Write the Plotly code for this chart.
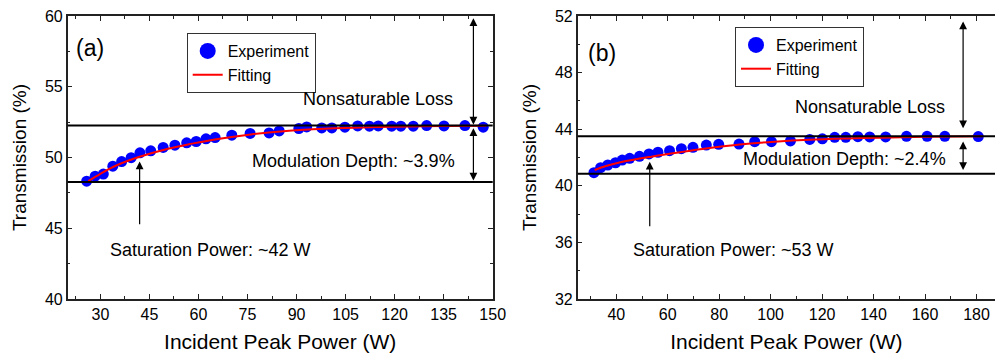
import plotly.graph_objects as go

# ---------------- Panel (a) data ----------------
pa_x = [25.8, 28.4, 30.9, 33.8, 36.5, 39.4, 42.1, 45.4, 49.2, 52.8, 56.4, 59.3, 62.3, 65.1,
        70.2, 75.8, 81.6, 84.7, 90.7, 93.1, 97.7, 100.8, 104.8, 108.7, 112.3, 115.0, 119.1,
        121.9, 125.7, 129.8, 135.1, 141.5, 147.1]
pa_y = [48.33, 48.68, 48.83, 49.39, 49.71, 49.99, 50.33, 50.47, 50.71, 50.87, 51.04, 51.13,
        51.32, 51.41, 51.58, 51.70, 51.74, 51.88, 52.05, 52.16, 52.09, 52.09, 52.14, 52.23,
        52.21, 52.23, 52.21, 52.21, 52.21, 52.26, 52.23, 52.26, 52.14]
fa_x = [26.3, 30, 35, 42, 51, 58, 65, 76, 86, 95, 105, 115, 125, 135, 148]
fa_y = [48.33, 48.85, 49.45, 50.05, 50.64, 50.98, 51.28, 51.63, 51.86, 51.99, 52.09, 52.15,
        52.19, 52.22, 52.25]
a_top, a_bot = 52.27, 48.27
a_sat = 42

# ---------------- Panel (b) data ----------------
pb_x = [31.3, 33.9, 36.7, 39.7, 42.3, 45.2, 49.0, 52.7, 56.2, 60.7, 65.3, 69.8, 75.0, 79.8,
        87.7, 93.8, 100.3, 107.7, 115.2, 120.1, 124.9, 129.2, 133.9, 138.5, 144.7, 152.8,
        160.8, 167.7, 180.7]
pb_y = [40.93, 41.28, 41.47, 41.63, 41.82, 41.94, 42.08, 42.25, 42.37, 42.48, 42.62, 42.72,
        42.88, 42.93, 42.95, 43.12, 43.12, 43.17, 43.28, 43.32, 43.43, 43.43, 43.47, 43.45,
        43.45, 43.50, 43.50, 43.50, 43.48]
fb_x = [31.6, 36, 42, 53.6, 65, 75.5, 88, 101.6, 115, 130, 142.4, 160, 182.5]
fb_y = [41.12, 41.40, 41.68, 42.06, 42.38, 42.65, 42.92, 43.12, 43.26, 43.35, 43.40, 43.46, 43.50]
b_top, b_bot = 43.50, 40.85
b_sat = 53

FONT = "Liberation Sans, Arial, sans-serif"
BLUE = "#0000ff"
RED = "#ff0000"
AX = "#222222"

fig = go.Figure()

# legend-only entries (large marker like the reference legend)
for leg, xa, ya in (("legend", "x", "y"), ("legend2", "x2", "y2")):
    fig.add_trace(go.Scatter(x=[None], y=[None], mode="markers", name="Experiment",
                             marker=dict(color=BLUE, size=16), legend=leg, xaxis=xa, yaxis=ya))
    fig.add_trace(go.Scatter(x=[None], y=[None], mode="lines", name="Fitting",
                             line=dict(color=RED, width=2), legend=leg, xaxis=xa, yaxis=ya))

fig.add_trace(go.Scatter(x=pa_x, y=pa_y, mode="markers", marker=dict(color=BLUE, size=11),
                         showlegend=False, xaxis="x", yaxis="y"))
fig.add_trace(go.Scatter(x=fa_x, y=fa_y, mode="lines", line=dict(color=RED, width=2, shape="spline"),
                         showlegend=False, xaxis="x", yaxis="y"))
fig.add_trace(go.Scatter(x=pb_x, y=pb_y, mode="markers", marker=dict(color=BLUE, size=11),
                         showlegend=False, xaxis="x2", yaxis="y2"))
fig.add_trace(go.Scatter(x=fb_x, y=fb_y, mode="lines", line=dict(color=RED, width=2, shape="spline"),
                         showlegend=False, xaxis="x2", yaxis="y2"))

# horizontal reference lines
for xr, yr, v in (("x", "y", a_top), ("x", "y", a_bot), ("x2", "y2", b_top), ("x2", "y2", b_bot)):
    fig.add_shape(type="line", xref=xr + " domain", yref=yr, x0=0, x1=1, y0=v, y1=v,
                  line=dict(color="black", width=2))

ann_font = dict(family=FONT, size=18, color="black")
label_font = dict(family=FONT, size=23, color="black")

annotations = [
    dict(x=74 / 995, y=1 - 33.3 / 358, xref="paper", yref="paper", text="(a)",
         showarrow=False, xanchor="left", font=label_font),
    dict(x=586 / 995, y=1 - 38.3 / 358, xref="paper", yref="paper", text="(b)",
         showarrow=False, xanchor="left", font=label_font),
    dict(x=114.8, y=54.1, xref="x", yref="y", text="Nonsaturable Loss", showarrow=False, font=ann_font),
    dict(x=107.3, y=49.74, xref="x", yref="y", text="Modulation Depth: ~3.9%", showarrow=False, font=ann_font),
    dict(x=63.8, y=43.46, xref="x", yref="y", text="Saturation Power: ~42 W", showarrow=False, font=ann_font),
    dict(x=138.7, y=45.55, xref="x2", yref="y2", text="Nonsaturable Loss", showarrow=False, font=ann_font),
    dict(x=128.8, y=41.87, xref="x2", yref="y2", text="Modulation Depth: ~2.4%", showarrow=False, font=ann_font),
    dict(x=85.6, y=35.46, xref="x2", yref="y2", text="Saturation Power: ~53 W", showarrow=False, font=ann_font),
]

arrow_common = dict(showarrow=True, arrowcolor="black", arrowwidth=1.2, arrowsize=1.3,
                    arrowhead=2, text="")
dbl = dict(arrowside="end+start", startarrowhead=2, startarrowsize=1.3)
arrows = [
    # saturation arrows (single head at top)
    dict(x=a_sat, y=49.72, ax=a_sat, ay=45.17, xref="x", yref="y", axref="x", ayref="y"),
    dict(x=b_sat, y=41.70, ax=b_sat, ay=37.04, xref="x2", yref="y2", axref="x2", ayref="y2"),
    # double arrows panel (a)
    dict(x=144.1, y=a_top + 0.05, ax=144.1, ay=59.95, xref="x", yref="y", axref="x", ayref="y", **dbl),
    dict(x=144.1, y=a_bot + 0.1, ax=144.1, ay=a_top - 0.1, xref="x", yref="y", axref="x", ayref="y", **dbl),
    # double arrows panel (b)
    dict(x=174.8, y=44.06, ax=174.8, ay=51.72, xref="x2", yref="y2", axref="x2", ayref="y2", **dbl),
    dict(x=174.8, y=41.12, ax=174.8, ay=43.24, xref="x2", yref="y2", axref="x2", ayref="y2", **dbl),
]
for a in arrows:
    d = dict(arrow_common)
    d.update(a)
    annotations.append(d)

tick_font = dict(family=FONT, size=16, color="black")

def axis(domain, rng, dtick, minor_dtick, title, mirror, anchor, standoff, tsize):
    return dict(domain=domain, range=rng, dtick=dtick, tick0=0, showgrid=False, zeroline=False,
                showline=True, linecolor=AX, linewidth=1.5, mirror=mirror, automargin=False,
                ticks="inside", ticklen=5, tickwidth=1.2, tickcolor=AX,
                minor=dict(dtick=minor_dtick, ticks="inside", ticklen=3, tickwidth=1, tickcolor=AX,
                           showgrid=False),
                tickfont=tick_font, anchor=anchor,
                title=dict(text=title, font=dict(family=FONT, size=tsize, color="black"),
                           standoff=standoff))

ydom = [59 / 358, 342 / 358]
leg_font = dict(family=FONT, size=16, color="black")
fig.update_layout(
    width=995, height=358, margin=dict(l=0, r=0, t=0, b=0, autoexpand=False),
    paper_bgcolor="white", plot_bgcolor="white", font=dict(family=FONT),
    xaxis=axis([67.7 / 995, 492.7 / 995], [20, 150], 15, 7.5, "Incident Peak Power (W)", "ticks", "y", 12, 21),
    yaxis=axis(ydom, [40, 60], 5, 2.5, "Transmission (%)", "ticks", "x", 13, 19),
    xaxis2=axis([577.7 / 995, 1.0], [25, 187.2], 20, 10, "Incident Peak Power (W)", "ticks", "y2", 12, 21),
    yaxis2=axis(ydom, [32, 52], 4, 2, "Transmission (%)", False, "x2", 13, 19),
    legend=dict(x=186.7 / 995, y=1 - 33 / 358, xanchor="left", yanchor="top",
                bordercolor="#333333", borderwidth=1, bgcolor="white",
                font=leg_font, tracegroupgap=0),
    legend2=dict(x=735 / 995, y=1 - 27 / 358, xanchor="left", yanchor="top",
                 bordercolor="#333333", borderwidth=1, bgcolor="white",
                 font=leg_font, tracegroupgap=0),
    annotations=annotations,
    showlegend=True,
)

fig.write_html("out.html", config={"displayModeBar": False},
               post_script="document.body.style.margin='0';document.body.style.overflow='hidden';")
